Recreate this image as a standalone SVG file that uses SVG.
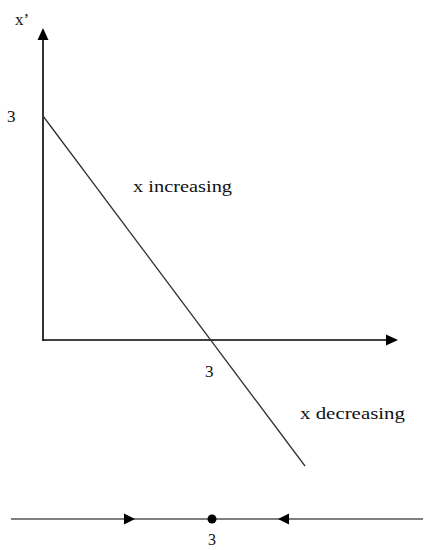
<svg xmlns="http://www.w3.org/2000/svg" width="425" height="550" viewBox="0 0 425 550">
<style>
.ax{stroke:#000;stroke-width:1.6;fill:none}
.ln{stroke:#333;stroke-width:1.3;fill:none}
text{font-family:'Liberation Serif','Times New Roman',serif;fill:#111}
</style>
<rect width="425" height="550" fill="#fff"/>
<g id="axes">
<line class="ax" x1="43" y1="341" x2="43" y2="38"/>
<polygon points="43,28 37.5,40 48.5,40" fill="#000"/>
<line class="ax" x1="43" y1="340" x2="388" y2="340"/>
<polygon points="398,340 386,334.5 386,345.5" fill="#000"/>
</g>
<g id="curve">
<line class="ln" x1="43" y1="116" x2="305" y2="466"/>
</g>
<g id="labels">
<text x="15" y="25" font-size="17">x’</text>
<text x="7" y="122" font-size="17">3</text>
<text x="205" y="377" font-size="17">3</text>
<text x="133" y="192" font-size="17" textLength="99" lengthAdjust="spacingAndGlyphs">x increasing</text>
<text x="300" y="419" font-size="17" textLength="105" lengthAdjust="spacingAndGlyphs">x decreasing</text>
</g>
<g id="phase-line">
<line stroke="#000" stroke-width="1.2" x1="11" y1="519" x2="423" y2="519"/>
<polygon points="135,519 124,513.5 124,524.5" fill="#000"/>
<polygon points="278,519 289,513.5 289,524.5" fill="#000"/>
<circle cx="212" cy="519" r="4.5" fill="#000"/>
<text x="208" y="545" font-size="16">3</text>
</g>
</svg>
